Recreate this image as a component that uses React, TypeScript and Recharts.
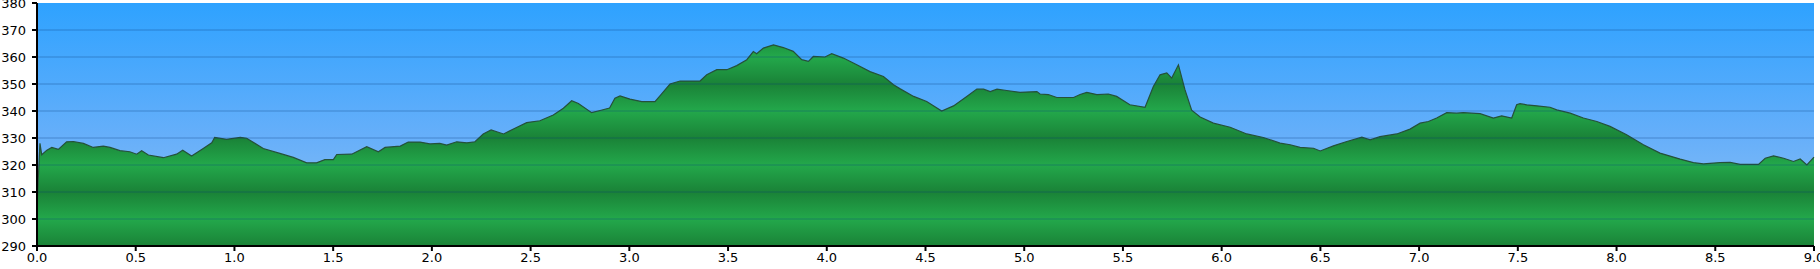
import { Area, AreaChart, CartesianGrid, ReferenceLine, XAxis, YAxis } from "recharts";

// distance in km
const distances = [
  0, 0.015, 0.024, 0.05, 0.075, 0.108, 0.15, 0.184, 0.235, 0.285, 0.336, 0.37, 0.42, 0.47, 0.505, 0.53, 0.564,
  0.64, 0.707, 0.738, 0.783, 0.842, 0.885, 0.9, 0.96, 1.03, 1.062, 1.146, 1.23, 1.298, 1.366, 1.416, 1.458, 1.501,
  1.518, 1.594, 1.67, 1.729, 1.763, 1.84, 1.88, 1.94, 1.99, 2.04, 2.075, 2.126, 2.177, 2.218, 2.26, 2.3, 2.363,
  2.421, 2.48, 2.547, 2.615, 2.666, 2.708, 2.742, 2.809, 2.852, 2.9, 2.927, 2.953, 3.003, 3.063, 3.13, 3.155,
  3.206, 3.257, 3.358, 3.392, 3.443, 3.494, 3.544, 3.595, 3.628, 3.645, 3.679, 3.73, 3.78, 3.83, 3.873, 3.907,
  3.932, 3.991, 4.025, 4.084, 4.152, 4.219, 4.287, 4.338, 4.372, 4.44, 4.506, 4.582, 4.642, 4.709, 4.76, 4.794,
  4.828, 4.862, 4.911, 4.979, 5.064, 5.08, 5.122, 5.165, 5.25, 5.283, 5.317, 5.368, 5.426, 5.468, 5.535, 5.612,
  5.654, 5.688, 5.722, 5.747, 5.781, 5.814, 5.848, 5.891, 5.958, 6.043, 6.127, 6.211, 6.296, 6.347, 6.397, 6.465,
  6.499, 6.566, 6.634, 6.71, 6.752, 6.802, 6.887, 6.954, 7.005, 7.047, 7.089, 7.14, 7.19, 7.224, 7.309, 7.376,
  7.418, 7.469, 7.494, 7.511, 7.545, 7.596, 7.663, 7.697, 7.765, 7.832, 7.9, 7.967, 8.051, 8.136, 8.22, 8.322,
  8.389, 8.44, 8.524, 8.575, 8.626, 8.719, 8.753, 8.795, 8.846, 8.896, 8.93, 8.964, 9.0,
];

// elevation in m
const elevations = [
  305, 328, 323.8, 325.5, 326.5, 325.8, 328.6, 328.7, 328, 326.5, 327, 326.5, 325.3, 324.9, 324, 325.3, 323.7,
  322.7, 324, 325.5, 323.3, 326.1, 328.2, 330.2, 329.5, 330.2, 329.9, 326.1, 324.3, 322.8, 320.8, 320.8, 322, 322,
  323.9, 324, 326.8, 324.9, 326.5, 327, 328.5, 328.5, 327.8, 328, 327.4, 328.6, 328.2, 328.6, 331.5, 333, 331.5,
  333.6, 335.7, 336.4, 338.5, 341, 343.8, 342.8, 339.4, 340.2, 341.1, 344.7, 345.6, 344.4, 343.5, 343.5, 345.6,
  350, 351.1, 351.1, 353.4, 355.3, 355.3, 356.8, 359, 362, 361.2, 363.3, 364.5, 363.5, 362.1, 359, 358.4,
  360.2, 360, 361.2, 359.6, 357.1, 354.6, 352.8, 349.7, 348.2, 345.4, 343.5, 340, 341.9, 345.4, 348.1, 348.1,
  347.2, 348.1, 347.6, 346.9, 347.2, 346.3, 346.1, 345, 345, 346.1, 346.9, 346.1, 346.3, 345.4, 342.3, 341.4,
  349.1, 353.4, 354.1, 352.2, 357.1, 347.9, 340.3, 337.8, 335.5, 334, 331.5, 330.2, 328.1, 327.5, 326.5, 326.2,
  325.2, 327.1, 328.7, 330.3, 329.3, 330.5, 331.5, 333.3, 335.5, 336.1, 337.4, 339.4, 339.2, 339.4, 339, 337.4,
  338.2, 337.4, 342.3, 342.7, 342.3, 341.9, 341.4, 340.4, 339.2, 337.4, 336.1, 334.3, 331.2, 327.5, 324.4, 322.2,
  320.9, 320.4, 320.9, 321, 320.2, 320.2, 322.5, 323.4, 322.5, 321.3, 322.2, 320, 322.9,
];

const xTicks = [0, 0.5, 1, 1.5, 2, 2.5, 3, 3.5, 4, 4.5, 5, 5.5, 6, 6.5, 7, 7.5, 8, 8.5, 9];
const yTicks = [290, 300, 310, 320, 330, 340, 350, 360, 370, 380];

const data = distances.map((d, i) => ({ dist: d, elev: elevations[i] }));

const W = 1820;
const H = 269;
const TOP = 3;
const BOTTOM = 23;
const LEFT = 37;
const RIGHT = 6;
const plotTop = TOP;
const plotBottom = H - BOTTOM;

const tickStyle = { fontFamily: "DejaVu Sans, Verdana, sans-serif", fontSize: 13, fill: "#000" };

export default function App() {
  // banded green: light on even 20 m levels, dark in between
  const bandStops = yTicks
    .slice()
    .reverse()
    .map((v) => ({
      offset: (380 - v) / 90,
      color: (v / 10) % 2 === 0 ? "#23a84b" : "#1a8237",
    }));

  return (
    <div style={{ position: "fixed", left: 0, top: 0, width: W, height: H, background: "#fff" }}>
      <AreaChart width={W} height={H} data={data} margin={{ top: TOP, right: RIGHT, left: 0, bottom: 0 }}>
        <defs>
          <linearGradient id="sky" x1="0" y1="0" x2="0" y2="1">
            <stop offset="0%" stopColor="#2ea2ff" />
            <stop offset="55%" stopColor="#66affa" />
            <stop offset="100%" stopColor="#93c3ef" />
          </linearGradient>
          <linearGradient id="ground" gradientUnits="userSpaceOnUse" x1="0" y1={plotTop} x2="0" y2={plotBottom}>
            {bandStops.map((s) => (
              <stop key={s.offset} offset={s.offset} stopColor={s.color} />
            ))}
          </linearGradient>
        </defs>
        <CartesianGrid horizontal={false} vertical={false} fill="url(#sky)" fillOpacity={1} />
        <XAxis
          dataKey="dist"
          type="number"
          domain={[0, 9]}
          ticks={xTicks}
          tickFormatter={(v: number) => v.toFixed(1)}
          height={BOTTOM}
          tick={tickStyle}
          axisLine={{ stroke: "#000", strokeWidth: 2 }}
          tickLine={{ stroke: "#000", strokeWidth: 2 }}
          tickSize={5}
          tickMargin={2}
          interval={0}
        />
        <YAxis
          type="number"
          domain={[290, 380]}
          ticks={yTicks}
          width={LEFT}
          tick={tickStyle}
          axisLine={{ stroke: "#000", strokeWidth: 2 }}
          tickLine={{ stroke: "#000", strokeWidth: 2 }}
          tickSize={5}
          tickMargin={6}
          interval={0}
          allowDataOverflow
        />
        <Area
          type="linear"
          dataKey="elev"
          stroke="#25513a"
          strokeWidth={1.2}
          fill="url(#ground)"
          fillOpacity={1}
          baseValue={290}
          isAnimationActive={false}
          dot={false}
          activeDot={false}
        />
        {yTicks.slice(1, -1).map((v) => (
          <ReferenceLine key={v} y={v} stroke="#0a3c78" strokeOpacity={0.35} strokeWidth={1} />
        ))}
      </AreaChart>
    </div>
  );
}
